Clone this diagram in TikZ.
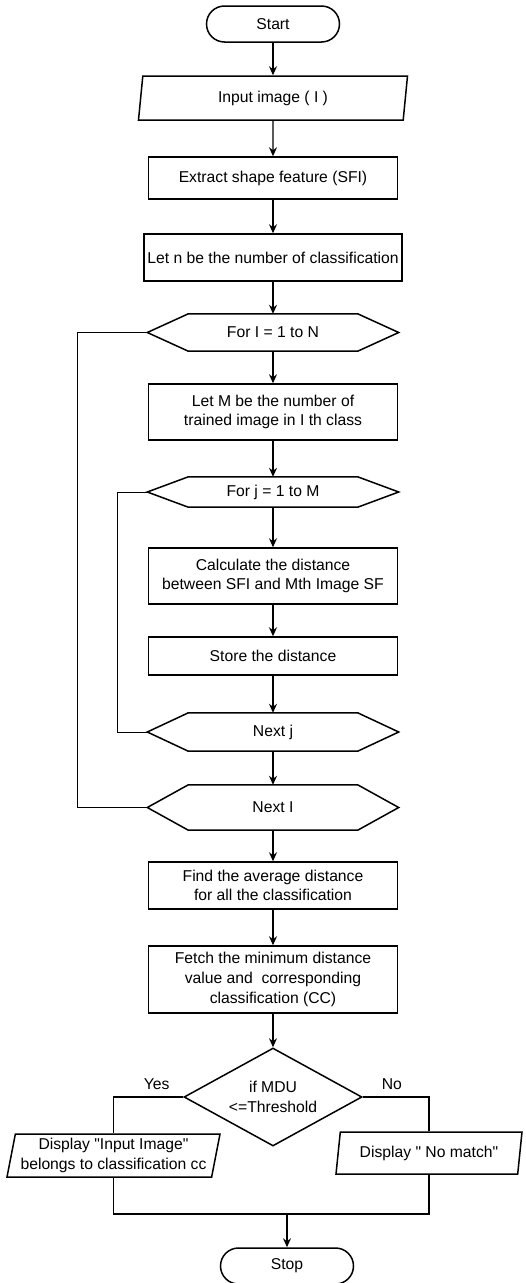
\documentclass[tikz,border=0pt]{standalone}
\usepackage{fontspec}
\setmainfont{Liberation Sans}
\usetikzlibrary{shapes.geometric,arrows.meta}

% outline of a loop limit box
\newcommand\hexa[1]{\draw[line width=1.5pt] (#1.west) -- ([xshift=41pt]#1.north west) -- ([xshift=-41pt]#1.north east) -- (#1.east) -- ([xshift=-41pt]#1.south east) -- ([xshift=41pt]#1.south west) -- cycle;}

\begin{document}
\begin{tikzpicture}[x=1pt,y=-1pt,
  font=\fontsize{15.7}{19.6}\selectfont,
  box/.style={draw,line width=1.5pt,align=center,inner sep=2pt},
  term/.style={box,rounded corners=18pt,minimum width=133pt,minimum height=36pt},
  proc/.style={box,minimum width=249pt},
  io/.style={box,trapezium,trapezium left angle=77,trapezium right angle=103,trapezium stretches body},
  loopnode/.style={align=center,minimum width=251pt},
  arr/.style={-{Stealth[length=9pt,width=8pt,inset=3pt]},line width=1.4pt},
  lnk/.style={line width=1.4pt},
  back/.style={line width=0.9pt}]
\useasboundingbox (0,0) rectangle (526,1283);

\node[term] (start) at (273,24) {Start};
\node[io,minimum width=269pt,minimum height=44pt] (inp) at (273,98) {Input image ( I )};
\node[proc,minimum height=42pt] (ext) at (273,178) {Extract shape feature (SFI)};
\node[proc,minimum width=258pt,minimum height=47pt,inner sep=0pt] (letn) at (273,257.5) {Let n be the number of classification};
\node[loopnode,minimum height=37pt] (fori) at (273,332.5) {For I = 1 to N};
\hexa{fori}
\node[proc,minimum height=56pt] (letm) at (273,412) {Let M be the number of\\trained image in I th class};
\node[loopnode,minimum height=30pt] (forj) at (273,492) {For j = 1 to M};
\hexa{forj}
\node[proc,minimum height=56pt] (calc) at (273,576) {Calculate the distance\\between SFI and Mth Image SF};
\node[proc,minimum height=38pt] (store) at (273,656) {Store the distance};
\node[loopnode,minimum height=38pt] (nextj) at (273,732) {Next j};
\hexa{nextj}
\node[loopnode,minimum height=45pt] (nexti) at (273,807.5) {Next I};
\hexa{nexti}
\node[proc,minimum height=47pt] (avg) at (273,885.5) {Find the average distance\\for all the classification};
\node[proc,minimum height=67pt] (fetch) at (273,979.5) {Fetch the minimum distance\\value and~ corresponding\\classification (CC)};
\node[box,diamond,aspect=1.8,inner sep=0pt,minimum width=178pt,minimum height=98pt] (dec) at (273,1097) {if MDU\\<=Threshold};
\node[io,minimum width=213pt,minimum height=43pt,inner sep=1pt] (yes) at (113.5,1155.5) {Display \textquotedbl Input Image\textquotedbl\\belongs to classification cc};
\node[io,minimum width=186pt,minimum height=42pt] (no) at (429,1153) {Display \textquotedbl\ No match\textquotedbl};
\node[term] (stop) at (287,1266) {Stop};
\coordinate (mrg) at (287,1214);

\draw[arr] (start) -- (inp);
\draw[arr] (inp) -- (ext);
\draw[arr] (ext) -- (letn);
\draw[arr] (letn) -- (fori);
\draw[arr] (fori) -- (letm);
\draw[arr] (letm) -- (forj);
\draw[arr] (forj) -- (calc);
\draw[arr] (calc) -- (store);
\draw[arr] (store) -- (nextj);
\draw[arr] (nextj) -- (nexti);
\draw[arr] (nexti) -- (avg);
\draw[arr] (avg) -- (fetch);
\draw[arr] (fetch) -- (dec);
\draw[back] (fori.west) -- ++(-70,0) |- (nexti.west);
\draw[back] (forj.west) -- ++(-30,0) |- (nextj.west);
\draw[lnk] (dec.west) -| node[pos=.19,above=3pt]{Yes} (yes.north);
\draw[lnk] (dec.east) -| node[pos=.22,above=3pt]{No} (no.north);
\draw[lnk] (yes.south) |- (mrg) -| (no.south);
\draw[arr] (mrg) -- (stop);

\end{tikzpicture}
\end{document}
